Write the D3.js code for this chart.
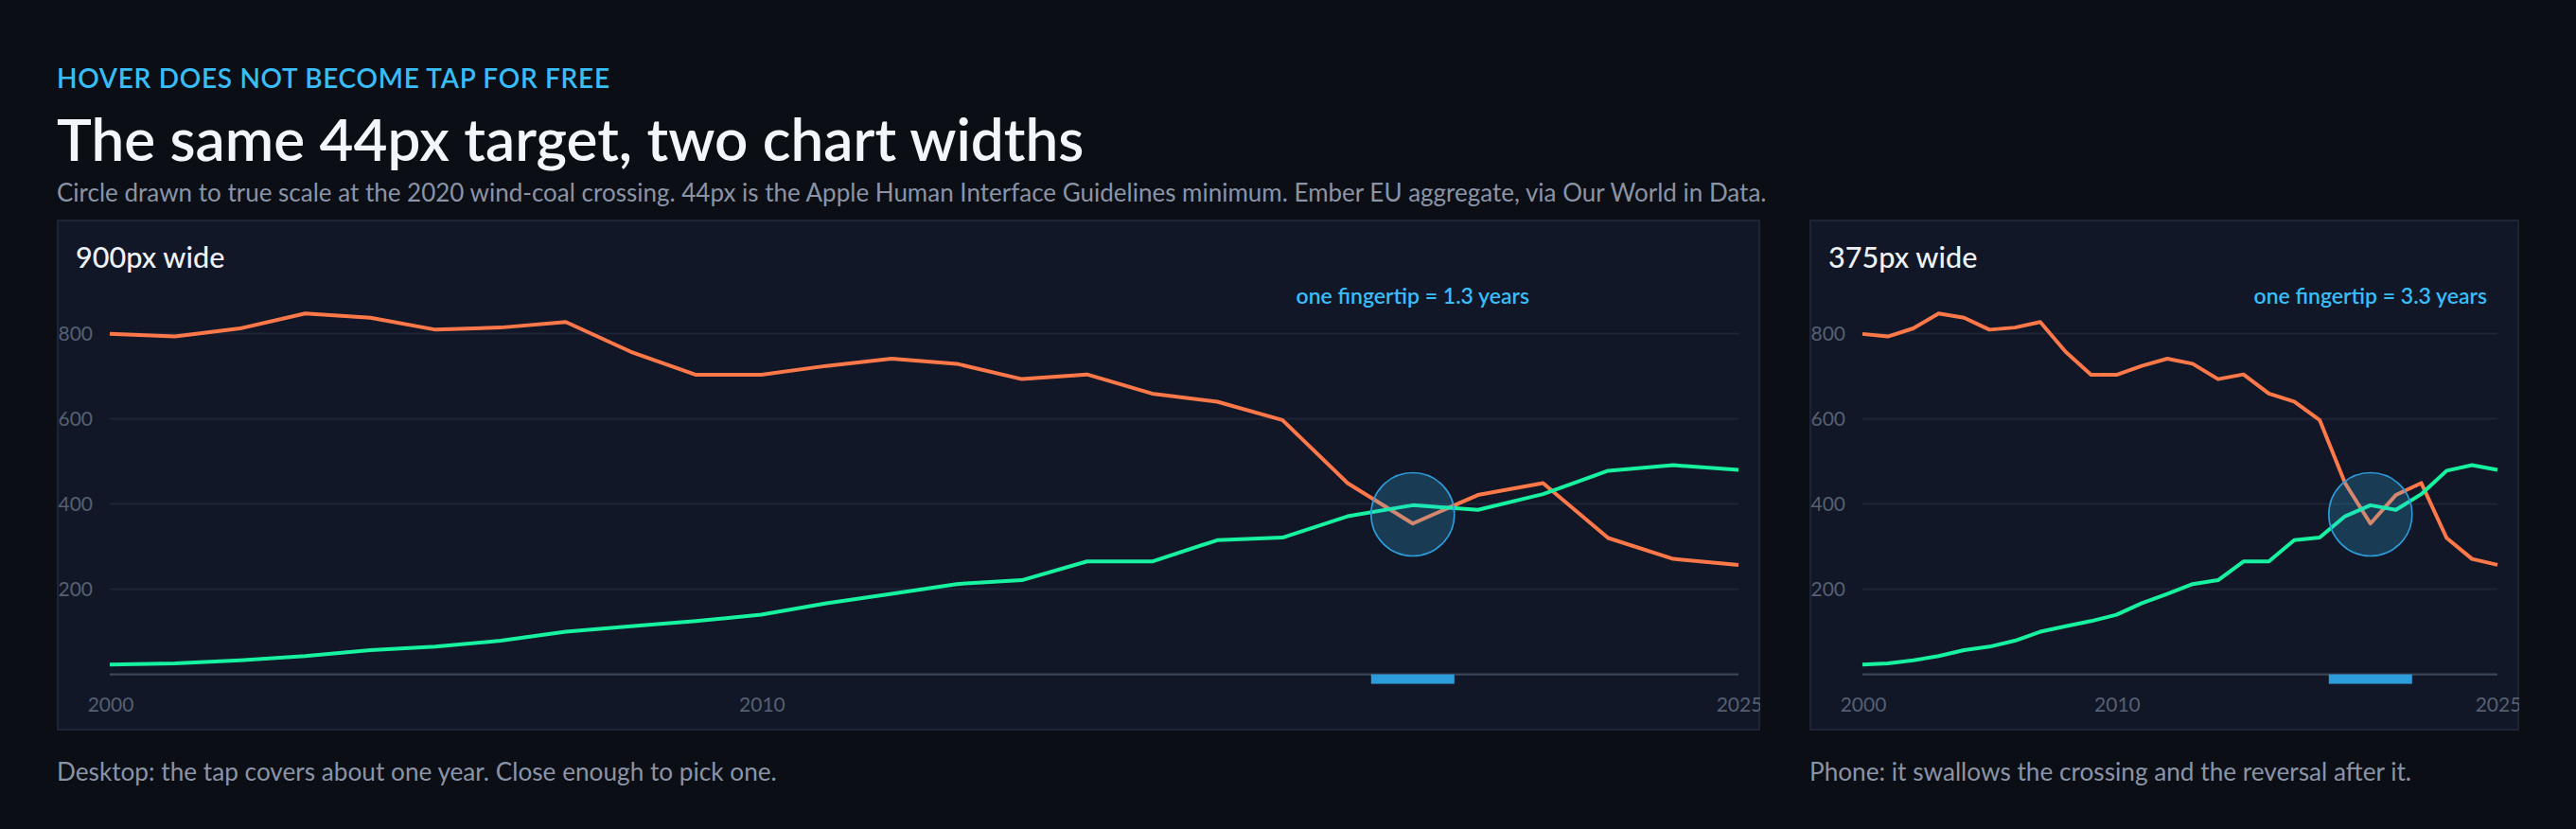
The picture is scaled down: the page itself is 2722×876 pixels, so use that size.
<!DOCTYPE html>
<html>
<head>
<meta charset="utf-8">
<script src="https://cdn.jsdelivr.net/npm/d3@7"></script>
<style>
  html, body { margin: 0; padding: 0; background: #0b0e15; }
  svg { display: block; }
  text { font-family: "Segoe UI", Lato, "Noto Sans", sans-serif; }
</style>
</head>
<body>
<svg id="chart"></svg>
<script>
// EU electricity generation, TWh (Ember via OWID)
const years = [
  2000, 2001, 2002, 2003, 2004, 2005, 2006, 2007, 2008, 2009, 2010, 2011, 2012,
  2013, 2014, 2015, 2016, 2017, 2018, 2019, 2020, 2021, 2022, 2023, 2024, 2025,
];
const coal = [
  799, 793, 812, 847, 837, 809, 814, 827, 757, 703, 703, 724, 741, 729, 693,
  704, 659, 640, 597, 449, 354, 421, 449, 320, 271, 257,
];
const wind = [
  23, 26, 33, 43, 57, 65, 79, 100, 113, 125, 140, 167, 189, 212, 221, 265, 265,
  315, 321, 371, 397, 386, 423, 478, 491, 480,
];
const yTicks = [200, 400, 600, 800];
const xTicks = [2000, 2010, 2025];
const panels = [
  { title: "900px wide", width: 900, caption: "Desktop: the tap covers about one year. Close enough to pick one." },
  { title: "375px wide", width: 375, caption: "Phone: it swallows the crossing and the reversal after it." },
];
const crossingYear = 2020;
const fingertip = 44; // px, Apple HIG minimum

const W = 1361, H = 438;
const svg = d3
  .select("#chart")
  .attr("width", W * 2)
  .attr("height", H * 2)
  .attr("viewBox", [0, 0, W, H].join(" "));

// header
svg.append("text")
  .attr("x", 30).attr("y", 46.3)
  .attr("fill", "#38bdf8")
  .attr("font-size", 14).attr("font-weight", 600)
  .attr("letter-spacing", "0.025em")
  .text("HOVER DOES NOT BECOME TAP FOR FREE");
svg.append("text")
  .attr("x", 30).attr("y", 85)
  .attr("fill", "#f3f6fa")
  .attr("font-size", 31).attr("font-weight", 600)
  .text("The same 44px target, two chart widths");
svg.append("text")
  .attr("x", 30).attr("y", 106.7)
  .attr("fill", "#8a94a6")
  .attr("font-size", 13)
  .text("Circle drawn to true scale at the 2020 wind-coal crossing. 44px is the Apple Human Interface Guidelines minimum. Ember EU aggregate, via Our World in Data.");

const panelTop = 116, panelH = 270, gap = 26;
const margin = { top: 37.7, right: 11.5, bottom: 29.7, left: 28 };

let px = 30;
for (const p of panels) {
  drawPanel(p, px);
  px += p.width + gap;
}

function drawPanel(p, x0) {
  const g = svg.append("g").attr("transform", `translate(${x0}, ${panelTop})`);

  const clipId = "clip-" + p.width;
  g.append("clipPath").attr("id", clipId)
    .append("rect").attr("width", p.width).attr("height", panelH);

  g.append("rect")
    .attr("x", 0.5).attr("y", 0.5)
    .attr("width", p.width - 1).attr("height", panelH - 1)
    .attr("fill", "#111726")
    .attr("stroke", "#1d2434");

  const inner = g.append("g").attr("clip-path", `url(#${clipId})`);

  const x = d3.scaleLinear()
    .domain([years[0], years[years.length - 1]])
    .range([margin.left, p.width - margin.right]);
  const y = d3.scaleLinear()
    .domain([0, 900])
    .range([panelH - margin.bottom, margin.top]);

  // grid
  inner.append("g")
    .selectAll("line")
    .data(yTicks)
    .join("line")
    .attr("x1", x.range()[0]).attr("x2", x.range()[1])
    .attr("y1", (d) => y(d)).attr("y2", (d) => y(d))
    .attr("stroke", "#1e2536");

  // y labels
  inner.append("g")
    .attr("transform", `translate(${margin.left}, 0)`)
    .call(d3.axisLeft(y).tickValues(yTicks).tickSize(0).tickPadding(9))
    .call((a) => a.select(".domain").remove())
    .call((a) => a.selectAll("text")
      .attr("fill", "#556072").attr("font-size", 10.5)
      .attr("font-family", null));

  // baseline
  inner.append("line")
    .attr("x1", x.range()[0]).attr("x2", x.range()[1])
    .attr("y1", y(0)).attr("y2", y(0))
    .attr("stroke", "#3b4658").attr("stroke-width", 1.2);

  // x labels
  inner.append("g")
    .attr("transform", `translate(0, ${y(0)})`)
    .call(d3.axisBottom(x).tickValues(xTicks).tickFormat(d3.format("d")).tickSize(0).tickPadding(12))
    .call((a) => a.select(".domain").remove())
    .call((a) => a.selectAll("text")
      .attr("fill", "#556072").attr("font-size", 10.5)
      .attr("font-family", null));

  const line = (vals) => d3.line()
    .x((d, i) => x(years[i]))
    .y((d) => y(d))(vals);

  // fingertip circle
  const i20 = years.indexOf(crossingYear);
  const cx = x(crossingYear);
  const cy = y((wind[i20] + coal[i20]) / 2);

  inner.append("path")
    .attr("d", line(coal))
    .attr("fill", "none").attr("stroke", "#ff7849")
    .attr("stroke-width", 2).attr("stroke-linejoin", "round");
  inner.append("path")
    .attr("d", line(wind))
    .attr("fill", "none").attr("stroke", "#16f2a0")
    .attr("stroke-width", 2).attr("stroke-linejoin", "round");

  inner.append("circle")
    .attr("cx", cx).attr("cy", cy).attr("r", fingertip / 2)
    .attr("fill", "rgba(56,189,248,0.22)")
    .attr("stroke", "#2d9cdb").attr("stroke-width", 0.8);

  // footprint on the axis
  inner.append("rect")
    .attr("x", cx - fingertip / 2).attr("y", y(0))
    .attr("width", fingertip).attr("height", 5)
    .attr("fill", "#2d9cdb");

  const yearsPerTap = fingertip / (x(crossingYear + 1) - x(crossingYear));
  inner.append("text")
    .attr("x", cx).attr("y", 44.5)
    .attr("text-anchor", "middle")
    .attr("fill", "#38bdf8")
    .attr("font-size", 11.5).attr("font-weight", 600)
    .text(`one fingertip = ${d3.format(".1f")(yearsPerTap)} years`);

  g.append("text")
    .attr("x", 10).attr("y", 25.3)
    .attr("fill", "#eef2f7")
    .attr("font-size", 15.3).attr("font-weight", 500)
    .text(p.title);

  svg.append("text")
    .attr("x", x0).attr("y", 412.5)
    .attr("fill", "#8a94a6")
    .attr("font-size", 13.1)
    .text(p.caption);
}
</script>
</body>
</html>
